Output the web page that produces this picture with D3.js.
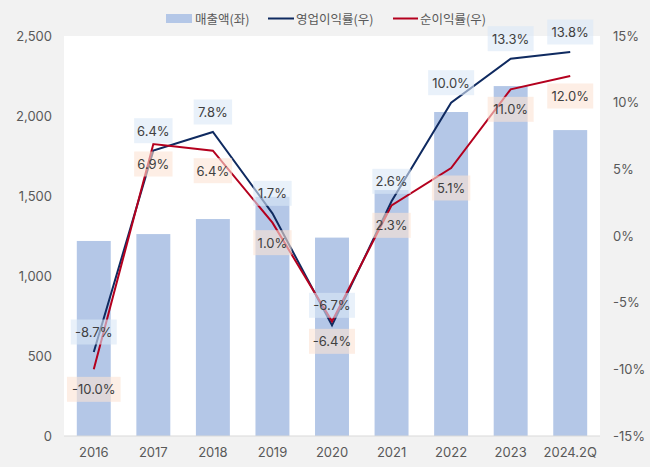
<!DOCTYPE html>
<html><head><meta charset="utf-8">
<script src="https://cdn.jsdelivr.net/npm/d3@7"></script>
<style>
body{margin:0;background:#f2f2f2;}
text{font-family:Inter,"Noto Sans CJK KR",sans-serif;}
</style></head>
<body>
<svg id="c" width="650" height="467"></svg>
<script>
const categories = ["2016","2017","2018","2019","2020","2021","2022","2023","2024.2Q"];
const sales = [1219, 1262, 1356, 1495, 1240, 1537, 2025, 2187, 1912];
const opMargin = [-8.7, 6.4, 7.8, 1.7, -6.7, 2.6, 10.0, 13.3, 13.8];
const netMargin = [-10.0, 6.9, 6.4, 1.0, -6.4, 2.3, 5.1, 11.0, 12.0];
const leftTicks = [0, 500, 1000, 1500, 2000, 2500];
const rightTicks = [-15, -10, -5, 0, 5, 10, 15];
const legendLabels = ["매출액(좌)", "영업이익률(우)", "순이익률(우)"];

const svg = d3.select("#c");
const m = {l:64, r:600, t:36, b:436};
svg.append("rect").attr("width",650).attr("height",467).attr("fill","#f2f2f2");
svg.append("rect").attr("x",m.l).attr("y",m.t).attr("width",m.r-m.l).attr("height",m.b-m.t).attr("fill","#fff");

const x = d3.scaleBand().domain(categories).range([m.l,m.r]).paddingInner(0.43).paddingOuter(0.215);
const xc = d => x(d)+x.bandwidth()/2;
const yL = d3.scaleLinear().domain([0,2500]).range([m.b,m.t]);
const yR = d3.scaleLinear().domain([-15,15]).range([m.b,m.t]);

// bars
svg.append("g").selectAll("rect").data(categories).join("rect")
  .attr("x",d=>x(d)).attr("width",x.bandwidth())
  .attr("y",(d,i)=>yL(sales[i])).attr("height",(d,i)=>m.b-yL(sales[i]))
  .attr("fill","#b4c7e7");

// baseline
svg.append("line").attr("x1",m.l).attr("x2",m.r).attr("y1",m.b).attr("y2",m.b).attr("stroke","#d9d9d9").attr("stroke-width",1);

// axes
const axL = d3.axisLeft(yL).tickValues(leftTicks).tickFormat(d3.format(",")).tickSize(0).tickPadding(12);
const gL = svg.append("g").attr("transform",`translate(${m.l},0)`).call(axL);
const axR = d3.axisRight(yR).tickValues(rightTicks).tickFormat(d=>d+"%").tickSize(0).tickPadding(13);
const gR = svg.append("g").attr("transform",`translate(${m.r},0)`).call(axR);
const axB = d3.axisBottom(x).tickSize(0).tickPadding(12);
const gB = svg.append("g").attr("transform",`translate(0,${m.b})`).call(axB);
[gL,gR,gB].forEach(g=>{g.select(".domain").remove();g.selectAll("text").attr("fill","#595959").style("font-size","13px").style("font-family","Inter,'Noto Sans CJK KR',sans-serif");});

// lines
const line = arr => d3.line().x((d,i)=>xc(categories[i])).y(d=>yR(d))(arr);
svg.append("path").attr("d",line(opMargin)).attr("fill","none").attr("stroke","#0f2a60").attr("stroke-width",2);
svg.append("path").attr("d",line(netMargin)).attr("fill","none").attr("stroke","#b4001e").attr("stroke-width",2);

// labels
function labels(arr, dy, fill){
  const g = svg.append("g");
  arr.forEach((v,i)=>{
    const cx = xc(categories[i]), cy = yR(v)+dy;
    const t = v.toFixed(1)+"%";
    const w = t.length*7.6+8;
    g.append("rect").attr("x",cx-w/2).attr("y",cy-12.5).attr("width",w).attr("height",25).attr("fill",fill).attr("opacity",0.6);
    g.append("text").attr("x",cx).attr("y",cy).attr("text-anchor","middle").attr("dominant-baseline","central")
      .attr("fill","#404040").style("font-size","13px").text(t);
  });
}
labels(opMargin,-20,"#dae8f6");
labels(netMargin,20,"#fbe3d3");

// legend
const lg = svg.append("g").style("font-size","12.5px");
lg.append("rect").attr("x",166).attr("y",14).attr("width",26).attr("height",9).attr("fill","#b4c7e7");
lg.append("text").attr("x",195).attr("y",18.5).attr("dominant-baseline","central").attr("fill","#595959").text(legendLabels[0]).style("font-family","'Noto Sans CJK KR',sans-serif");
lg.append("line").attr("x1",268).attr("x2",294).attr("y1",18.5).attr("y2",18.5).attr("stroke","#0f2a60").attr("stroke-width",2);
lg.append("text").attr("x",296).attr("y",18.5).attr("dominant-baseline","central").attr("fill","#595959").text(legendLabels[1]).style("font-family","'Noto Sans CJK KR',sans-serif");
lg.append("line").attr("x1",393).attr("x2",418).attr("y1",18.5).attr("y2",18.5).attr("stroke","#b4001e").attr("stroke-width",2);
lg.append("text").attr("x",420).attr("y",18.5).attr("dominant-baseline","central").attr("fill","#595959").text(legendLabels[2]).style("font-family","'Noto Sans CJK KR',sans-serif");
</script>
</body></html>
